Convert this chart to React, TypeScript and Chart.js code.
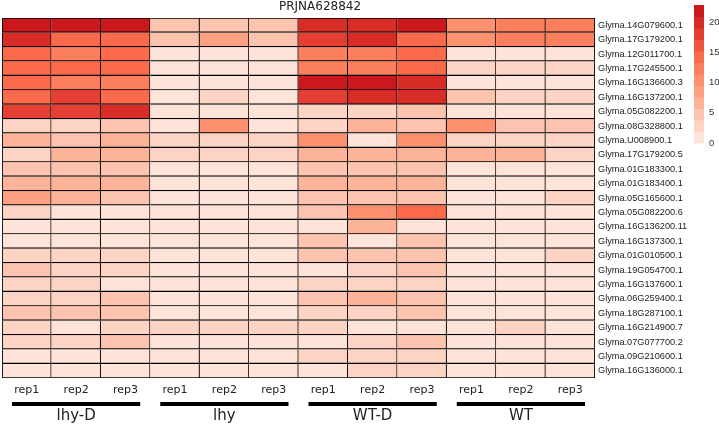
import React, { useEffect, useRef } from "react";
import { Chart, registerables } from "chart.js";

Chart.register(...registerables);

const TITLE = "PRJNA628842";
const GROUPS = ["lhy-D", "lhy", "WT-D", "WT"];
const REPS = ["rep1", "rep2", "rep3"];
const COLUMNS = GROUPS.flatMap(() => REPS);

const GENES = [
  "Glyma.14G079600.1",
  "Glyma.17G179200.1",
  "Glyma.12G011700.1",
  "Glyma.17G245500.1",
  "Glyma.16G136600.3",
  "Glyma.16G137200.1",
  "Glyma.05G082200.1",
  "Glyma.08G328800.1",
  "Glyma.U008900.1",
  "Glyma.17G179200.5",
  "Glyma.01G183300.1",
  "Glyma.01G183400.1",
  "Glyma.05G165600.1",
  "Glyma.05G082200.6",
  "Glyma.16G136200.11",
  "Glyma.16G137300.1",
  "Glyma.01G010500.1",
  "Glyma.19G054700.1",
  "Glyma.16G137600.1",
  "Glyma.06G259400.1",
  "Glyma.18G287100.1",
  "Glyma.16G214900.7",
  "Glyma.07G077700.2",
  "Glyma.09G210600.1",
  "Glyma.16G136000.1",
];

// values per gene: [rep1, rep2, rep3]
const LHY_D = [
  [22, 22, 22], [20, 15, 15], [15, 13, 15], [15, 15, 15], [15, 13, 13],
  [15, 18, 15], [18, 18, 20], [3, 3, 5], [7, 5.5, 7], [3, 6, 6],
  [5, 5.5, 5], [7.5, 7.5, 7.5], [8, 6, 5], [3, 1, 1], [1, 1, 1],
  [1, 1, 1], [3, 3.5, 3.5], [5, 3.5, 3.5], [3, 3, 1], [3.5, 3.5, 4],
  [4, 4, 4], [3.5, 1.5, 3.5], [3.5, 3.5, 4], [1.5, 1.5, 1.5], [1.5, 1.5, 1.5],
];
const LHY = [
  [5, 5, 5], [5, 8, 5.5], [1, 1, 1], [1, 1, 1], [1, 1, 1],
  [1, 3, 1], [1, 1, 1], [1, 10, 1], [3, 3, 3], [3, 3, 3],
  [1, 1, 1], [1, 1, 1], [1, 1, 1], [1, 1, 1], [1, 1, 1],
  [1, 1, 1], [1.5, 1.5, 1.5], [1, 1, 1], [1, 1, 1], [1, 1, 1],
  [1, 1, 1], [3, 3.5, 3], [1, 1, 1], [1, 1, 1], [1, 1, 1],
];
const WT_D = [
  [20, 20, 22], [18, 20, 15], [13, 13, 15], [13, 13, 15], [22, 22, 20],
  [18, 20, 20], [3, 3, 4.5], [3, 7, 5], [10, 0.5, 10], [7.5, 6, 6],
  [5, 5.5, 5], [7, 7, 7], [5.5, 5.5, 5.5], [5, 10, 15], [1, 7.5, 1],
  [5, 0.5, 5], [5, 5, 5.5], [1, 3.5, 5], [3, 3, 3], [4, 6, 4],
  [3.5, 3.5, 4], [3.5, 1.5, 1.5], [1.5, 3.5, 4], [3, 3, 3], [1.5, 3.5, 3.5],
];
const WT = [
  [10, 12, 12], [10, 12, 12], [1, 1, 1], [3, 3, 3], [1, 1, 1],
  [4.5, 3, 3], [1, 1, 1], [10, 5, 4], [3, 3, 3], [6, 6, 3],
  [1, 1, 1], [1, 1, 1], [1, 1, 3], [1, 1, 1], [1, 1, 1],
  [1, 1, 1], [1, 1, 2], [1, 1, 1], [1, 1, 1], [1, 1, 1],
  [1, 1, 1], [1, 3.5, 1], [1, 1, 1], [1, 1, 1], [1, 1, 1],
];

const LEGEND_TICKS = [0, 5, 10, 15, 20];
const LEGEND_MAX = 22.8;
const BAND_COLORS = [
  "#FEE3D9", "#FDD4C4", "#FCC4AE", "#FCB398", "#FCA283", "#FC916F",
  "#FB7F5C", "#FB6A4A", "#F1553E", "#E43F32", "#D72D26", "#CB181D",
];

function colorFor(v: number) {
  const step = LEGEND_MAX / BAND_COLORS.length;
  const i = Math.max(0, Math.min(BAND_COLORS.length - 1, Math.floor(v / step)));
  return BAND_COLORS[i];
}

function rowValues(r: number) {
  return [...LHY_D[r], ...LHY[r], ...WT_D[r], ...WT[r]];
}

const decorPlugin = {
  id: "decor",
  afterDraw(chart: any) {
    const ctx = chart.ctx;
    const xs = chart.scales.x;
    const area = chart.chartArea;
    ctx.save();
    // title
    ctx.fillStyle = "#222";
    ctx.font = "12px 'DejaVu Sans'";
    ctx.textAlign = "center";
    ctx.textBaseline = "middle";
    ctx.fillText(TITLE, 320, 7);

    // group bars and labels
    const slot = (xs.right - xs.left) / COLUMNS.length;
    GROUPS.forEach((g, gi) => {
      const left = xs.getPixelForValue(gi * 3) - slot / 2 + 10;
      const right = xs.getPixelForValue(gi * 3 + 2) + slot / 2 - 10;
      ctx.fillStyle = "#000";
      ctx.fillRect(left, area.bottom + 24, right - left, 4);
      ctx.fillStyle = "#222";
      ctx.font = "15px 'DejaVu Sans'";
      ctx.textAlign = "center";
      ctx.textBaseline = "middle";
      ctx.fillText(g, (left + right) / 2, area.bottom + 38);
    });

    // color legend
    const lx = 694;
    const lw = 10;
    const top = 5;
    const bottom = 143;
    const pxPerUnit = (bottom - top) / LEGEND_MAX;
    const bandH = (bottom - top) / BAND_COLORS.length;
    BAND_COLORS.forEach((c, i) => {
      ctx.fillStyle = c;
      ctx.fillRect(lx, bottom - (i + 1) * bandH, lw, bandH + 0.5);
    });
    ctx.fillStyle = "#333";
    ctx.font = "9.5px 'Liberation Sans'";
    ctx.textAlign = "left";
    ctx.textBaseline = "middle";
    LEGEND_TICKS.forEach((t) => {
      ctx.fillText(String(t), lx + 15, bottom - t * pxPerUnit);
    });
    ctx.restore();
  },
};

export default function App() {
  const ref = useRef<HTMLCanvasElement | null>(null);
  useEffect(() => {
    document.body.style.margin = "0";
    if (!ref.current) return;
    const datasets = GENES.map((g, r) => {
      const vals = rowValues(r);
      return {
        label: g,
        data: COLUMNS.map(() => [r, r + 1]),
        backgroundColor: vals.map(colorFor),
        borderColor: "#000",
        borderWidth: (c: any) => ({
          top: r === 0 ? 1.2 : 0,
          left: c.dataIndex === 0 ? 1.2 : 0,
          right: 1.2,
          bottom: 1.2,
        }),
        borderSkipped: false,
        barPercentage: 1,
        categoryPercentage: 1,
        grouped: false,
      };
    });
    const chart = new Chart(ref.current, {
      type: "bar",
      data: { labels: COLUMNS, datasets: datasets as any },
      options: {
        responsive: false,
        animation: false,
        layout: { padding: { left: 2, top: 18, right: 0, bottom: 0 } },
        plugins: { legend: { display: false }, tooltip: { enabled: false }, title: { display: false } },
        scales: {
          x: {
            type: "category",
            grid: { display: false, drawTicks: false },
            border: { display: false },
            ticks: {
              autoSkip: false,
              maxRotation: 0,
              padding: 6,
              color: "#222",
              font: { family: "'DejaVu Sans'", size: 11 },
            },
            afterFit: (s: any) => {
              s.height = 50;
            },
          },
          y: {
            type: "linear",
            position: "right",
            min: 0,
            max: GENES.length,
            reverse: true,
            grid: { display: false, drawTicks: false },
            border: { display: false },
            afterBuildTicks: (s: any) => {
              s.ticks = GENES.map((_, i) => ({ value: i + 0.5 }));
            },
            ticks: {
              autoSkip: false,
              padding: 3,
              color: "#222",
              font: { family: "'Liberation Sans'", size: 9.2 },
              callback: (_v: any, i: number) => GENES[i],
            },
            afterFit: (s: any) => {
              s.width = 124;
            },
          },
        },
      },
      plugins: [decorPlugin],
    });
    return () => chart.destroy();
  }, []);
  return (
    <div style={{ width: 719, height: 428 }}>
      <canvas ref={ref} width={719} height={428} />
    </div>
  );
}
